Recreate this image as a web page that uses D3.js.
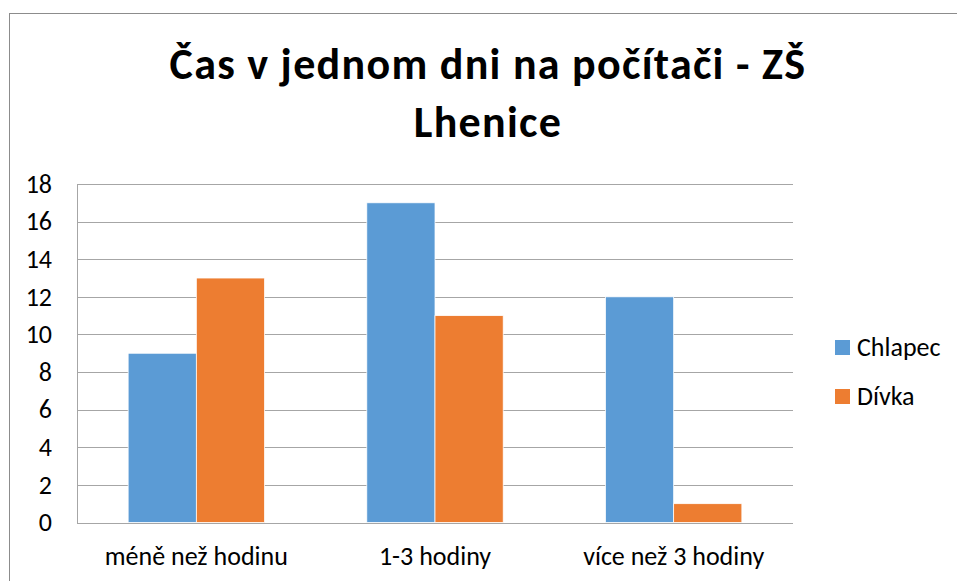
<!DOCTYPE html>
<html>
<head>
<meta charset="utf-8">
<script src="https://cdn.jsdelivr.net/npm/d3@7"></script>
<style>
html, body { margin: 0; padding: 0; background: #fff; }
svg { display: block; }
text { font-family: Calibri, Carlito, Lato, sans-serif; fill: #000; }
</style>
</head>
<body>
<svg id="chart" width="957" height="581"></svg>
<script>
const titleLines = ["Čas v jednom dni na počítači - ZŠ", "Lhenice"];
const categories = ["méně než hodinu", "1-3 hodiny", "více než 3 hodiny"];
const seriesNames = ["Chlapec", "Dívka"];
const chlapec = [9, 17, 12];
const divka = [13, 11, 1];
const yTicks = [0, 2, 4, 6, 8, 10, 12, 14, 16, 18];
const colors = ["#5B9BD5", "#ED7D31"];

const seriesValues = [chlapec, divka];
const rows = categories.map((c, i) => ({
  cat: c,
  vals: seriesNames.map((s, j) => ({ s, v: seriesValues[j][i], color: colors[j] }))
}));

const svg = d3.select("#chart");
const plot = { left: 77, right: 793, top: 184, bottom: 522.5 };
const labelSize = 26;

// outer chart border
svg.append("rect")
  .attr("x", 9.5).attr("y", 13.5)
  .attr("width", 1000).attr("height", 700)
  .attr("fill", "#fff").attr("stroke", "#8c8c8c").attr("stroke-width", 1);

// title
const title = svg.append("text")
  .attr("text-anchor", "middle")
  .attr("font-weight", "bold")
  .attr("font-size", 44)
  .attr("letter-spacing", 1.3);
title.append("tspan").attr("x", 488).attr("y", 79).text(titleLines[0]);
title.append("tspan").attr("x", 488).attr("y", 137).text(titleLines[1]);

const x0 = d3.scaleBand().domain(categories).range([plot.left, plot.right]).padding(0);
const x1 = d3.scaleBand().domain(seriesNames).range([0, x0.bandwidth()]).paddingInner(0).paddingOuter(0.75);
const y = d3.scaleLinear().domain([0, 18]).range([plot.bottom, plot.top]);

// gridlines
svg.append("g").selectAll("line").data(yTicks).join("line")
  .attr("x1", plot.left).attr("x2", plot.right)
  .attr("y1", d => Math.round(y(d)) + 0.5).attr("y2", d => Math.round(y(d)) + 0.5)
  .attr("stroke", "#a6a6a6").attr("stroke-width", 1);

// left axis line
svg.append("line")
  .attr("x1", plot.left + 0.5).attr("x2", plot.left + 0.5)
  .attr("y1", Math.round(y(18)) + 0.5).attr("y2", Math.round(y(0)) + 0.5)
  .attr("stroke", "#a6a6a6").attr("stroke-width", 1);

// y axis labels
const yAxis = d3.axisLeft(y).tickValues(yTicks).tickSize(0).tickPadding(25).tickFormat(d3.format("d"));
const gy = svg.append("g").attr("transform", `translate(${plot.left},0)`).call(yAxis);
gy.select(".domain").remove();
gy.selectAll("text").attr("font-size", labelSize).attr("font-family", "Calibri, Carlito, Lato, sans-serif").attr("fill", "#000");

// bars
const groups = svg.append("g").selectAll("g").data(rows).join("g")
  .attr("transform", d => `translate(${x0(d.cat)},0)`);
groups.selectAll("rect").data(d => d.vals).join("rect")
  .attr("x", d => x1(d.s))
  .attr("width", x1.bandwidth())
  .attr("y", d => y(d.v))
  .attr("height", d => y(0) - y(d.v))
  .attr("fill", d => d.color)
  .attr("stroke", "#fff").attr("stroke-width", 0.75);

// x axis labels
const xAxis = d3.axisBottom(x0).tickSize(0).tickPadding(24);
const gx = svg.append("g").attr("transform", `translate(0,${plot.bottom})`).call(xAxis);
gx.select(".domain").remove();
gx.selectAll("text").attr("font-size", labelSize).attr("font-family", "Calibri, Carlito, Lato, sans-serif").attr("fill", "#000");

// legend
const legend = svg.append("g").selectAll("g").data(seriesNames).join("g")
  .attr("transform", (d, i) => `translate(835,${340 + i * 49})`);
legend.append("rect").attr("width", 15).attr("height", 15).attr("fill", (d, i) => colors[i]);
legend.append("text").attr("x", 22).attr("y", 16).attr("font-size", labelSize).text(d => d);
</script>
</body>
</html>
